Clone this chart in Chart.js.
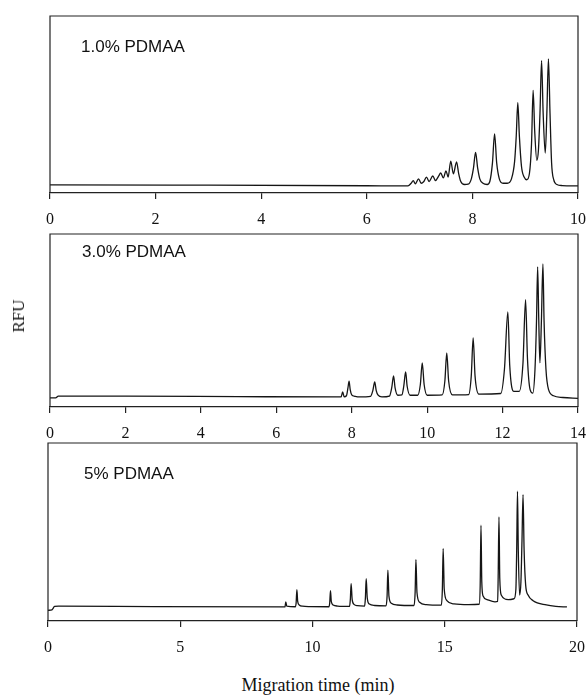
<!DOCTYPE html>
<html>
<head>
  <style>
    body { margin: 0; background: #fff; }
    #wrap { position: relative; width: 586px; height: 696px; background: #fff; overflow: hidden; }
    canvas { position: absolute; left: 0; }
    .lbl { position: absolute; font-family: "Liberation Sans", Arial, sans-serif; font-size: 17px; line-height: 20px; color: #111; white-space: nowrap; }
    .serif { position: absolute; font-family: "Liberation Serif", "Times New Roman", serif; color: #111; white-space: nowrap; line-height: 20px; }
  </style>
</head>
<body>
<div id="wrap">
  <canvas id="c1" width="586" height="233" style="top:0px"></canvas>
  <canvas id="c2" width="586" height="227" style="top:220px"></canvas>
  <canvas id="c3" width="586" height="231" style="top:430px"></canvas>

  <div class="lbl" style="left:81px; top:37px">1.0% PDMAA</div>
  <div class="lbl" style="left:82px; top:242px">3.0% PDMAA</div>
  <div class="lbl" style="left:84px; top:464px">5% PDMAA</div>
  <div class="serif" style="left:19px; top:316px; font-size:17px; transform:translate(-50%,-50%) rotate(-90deg)">RFU</div>
  <div class="serif" style="left:318px; top:685px; font-size:18px; transform:translate(-50%,-50%)">Migration time (min)</div>
</div>

<script src="https://cdn.jsdelivr.net/npm/chart.js"></script>
<script>
// 1.0% PDMAA trace (min, RFU arbitrary 0-100)
const time1 = [0, 0.05, 3, 6, 6.78, 6.84, 6.88, 6.92, 6.98, 7.03, 7.08, 7.13, 7.18, 7.25, 7.30, 7.36, 7.40, 7.45, 7.50, 7.54,
  7.59, 7.64, 7.70, 7.74, 7.78, 7.85, 7.92, 7.98, 8.02, 8.06, 8.10, 8.14, 8.20, 8.28, 8.33, 8.38, 8.42, 8.46, 8.51, 8.58,
  8.66, 8.74, 8.80, 8.83, 8.86, 8.89, 8.93, 8.98, 9.03, 9.08, 9.12, 9.15, 9.18, 9.22, 9.25, 9.28, 9.31, 9.34, 9.38, 9.41,
  9.44, 9.47, 9.50, 9.54, 9.60, 9.70, 10];
const rfu1 = [4.6, 4.6, 4.4, 4.1, 4.0, 5.5, 7.0, 5.2, 8.0, 5.5, 6.5, 9.0, 6.5, 9.6, 7.0, 9.5, 11.3, 8.5, 12.5, 9.0,
  18.0, 10.8, 17.6, 11.0, 6.5, 4.8, 5.0, 8.0, 14.0, 23.0, 14.0, 8.0, 5.5, 4.8, 6.5, 17.0, 33.4, 17.0, 8.0, 5.5,
  5.5, 8.0, 18.0, 32.0, 51.0, 32.0, 15.0, 9.0, 7.5, 11.0, 28.0, 58.0, 35.0, 18.5, 24.0, 45.0, 74.8, 45.0, 22.6, 45.0,
  75.8, 45.0, 17.0, 7.5, 4.8, 4.2, 4.0];

// 3.0% PDMAA trace
const time2 = [0, 0.15, 0.22, 2, 5, 7.6, 7.72, 7.76, 7.80, 7.86, 7.90, 7.93, 7.96, 8.0, 8.08, 8.2, 8.50, 8.56, 8.61, 8.65,
  8.70, 8.8, 9.0, 9.06, 9.11, 9.15, 9.22, 9.33, 9.38, 9.43, 9.47, 9.55, 9.75, 9.82, 9.87, 9.92, 10.0, 10.4, 10.47, 10.52,
  10.57, 10.67, 11.1, 11.17, 11.22, 11.27, 11.37, 11.95, 12.05, 12.14, 12.19, 12.30, 12.44, 12.54, 12.61, 12.66, 12.73, 12.80, 12.86, 12.90,
  12.93, 12.96, 12.99, 13.03, 13.07, 13.10, 13.15, 13.22, 13.35, 13.6, 14];
const rfu2 = [5.3, 5.3, 6.3, 6.3, 6.0, 5.8, 5.9, 8.7, 5.9, 6.5, 11.0, 15.0, 10.0, 7.0, 6.2, 5.8, 6.2, 9.5, 14.5, 9.5,
  6.8, 5.8, 6.3, 11.0, 18.0, 11.0, 6.8, 7.0, 12.0, 20.3, 12.0, 6.8, 6.8, 13.0, 25.5, 13.0, 6.8, 7.0, 15.0, 31.2,
  15.0, 7.0, 7.2, 18.0, 40.0, 18.0, 7.5, 7.8, 22.0, 55.0, 24.0, 9.0, 9.0, 25.0, 62.0, 28.0, 10.0, 8.0, 22.0, 50.0,
  81.0, 50.0, 25.5, 50.0, 82.7, 50.0, 22.0, 10.0, 6.5, 5.5, 5.0];

// 5% PDMAA trace
const time3 = [0, 0.15, 0.25, 0.4, 4, 8.9, 8.96, 8.99, 9.03, 9.35, 9.38, 9.41, 9.44, 9.50, 9.62, 9.9, 10.62, 10.65, 10.68, 10.71,
  10.78, 10.95, 11.40, 11.43, 11.46, 11.50, 11.58, 11.7, 11.97, 12.00, 12.03, 12.07, 12.15, 12.35, 12.78, 12.82, 12.85, 12.89, 12.98, 13.2,
  13.84, 13.88, 13.91, 13.95, 14.05, 14.3, 14.87, 14.91, 14.94, 14.98, 15.08, 15.35, 15.9, 16.30, 16.34, 16.37, 16.40, 16.45, 16.6, 16.9,
  17.0, 17.02, 17.05, 17.08, 17.14, 17.4, 17.62, 17.69, 17.72, 17.75, 17.78, 17.83, 17.88, 17.92, 17.96, 18.0, 18.06, 18.15, 18.34, 18.84,
  19.2, 19.62];
const rfu3 = [6.0, 6.3, 8.2, 8.4, 8.1, 7.9, 8.0, 10.7, 8.3, 8.0, 10.0, 17.6, 11.0, 9.0, 8.3, 8.1, 8.0, 10.0, 17.1, 11.0,
  9.0, 8.4, 8.2, 12.0, 21.0, 12.0, 9.2, 8.6, 8.4, 13.0, 23.8, 13.0, 9.5, 8.7, 8.5, 14.0, 28.5, 14.0, 10.0, 9.0,
  8.7, 16.0, 34.5, 16.0, 10.5, 9.2, 8.9, 18.0, 40.7, 18.0, 11.5, 9.6, 9.2, 9.4, 20.0, 53.8, 22.0, 14.0, 12.0, 10.8,
  11.0, 25.0, 58.5, 24.0, 14.5, 12.0, 12.5, 18.0, 40.0, 72.9, 40.0, 14.5, 22.0, 45.0, 71.0, 40.0, 20.0, 14.6, 11.4, 9.0,
  8.2, 7.9];

const xTicks1 = [0, 2, 4, 6, 8, 10];
const xTicks2 = [0, 2, 4, 6, 8, 10, 12, 14];
const xTicks3 = [0, 5, 10, 15, 20];

const frame = {
  id: 'frame',
  afterDraw(chart) {
    const { ctx, chartArea: { left, top, right, bottom } } = chart;
    ctx.save();
    ctx.strokeStyle = '#222';
    ctx.lineWidth = 1.2;
    ctx.beginPath();
    ctx.moveTo(left, bottom);
    ctx.lineTo(left, top);
    ctx.lineTo(right, top);
    ctx.lineTo(right, bottom);
    ctx.stroke();
    ctx.restore();
  }
};

function makeChart(id, times, values, ticks, pad) {
  const pts = times.map((t, i) => ({ x: t, y: values[i] }));
  return new Chart(document.getElementById(id), {
    type: 'line',
    data: {
      datasets: [{
        data: pts,
        borderColor: '#151515',
        borderWidth: 1.3,
        pointRadius: 0,
        cubicInterpolationMode: 'monotone',
        fill: false
      }]
    },
    options: {
      responsive: false,
      animation: false,
      devicePixelRatio: 1,
      layout: { padding: pad },
      plugins: { legend: { display: false }, tooltip: { enabled: false } },
      scales: {
        x: {
          type: 'linear',
          min: ticks[0],
          max: ticks[ticks.length - 1],
          afterBuildTicks: s => { s.ticks = ticks.map(v => ({ value: v })); },
          afterFit: s => { s.height = 40; s.paddingLeft = 0; s.paddingRight = 0; },
          ticks: {
            autoSkip: false,
            maxRotation: 0,
            padding: 11,
            color: '#111',
            font: { family: 'Liberation Serif', size: 16 }
          },
          grid: { drawOnChartArea: false, drawTicks: true, tickLength: 6, color: '#222', lineWidth: 1.2 },
          border: { display: true, color: '#222', width: 1.2 }
        },
        y: { display: false, min: 0, max: 100 }
      }
    },
    plugins: [frame]
  });
}

makeChart('c1', time1, rfu1, xTicks1, { left: 50, right: 8, top: 16, bottom: 0 });
makeChart('c2', time2, rfu2, xTicks2, { left: 50, right: 8, top: 14, bottom: 0 });
makeChart('c3', time3, rfu3, xTicks3, { left: 48, right: 9, top: 13, bottom: 0 });
</script>
</body>
</html>
